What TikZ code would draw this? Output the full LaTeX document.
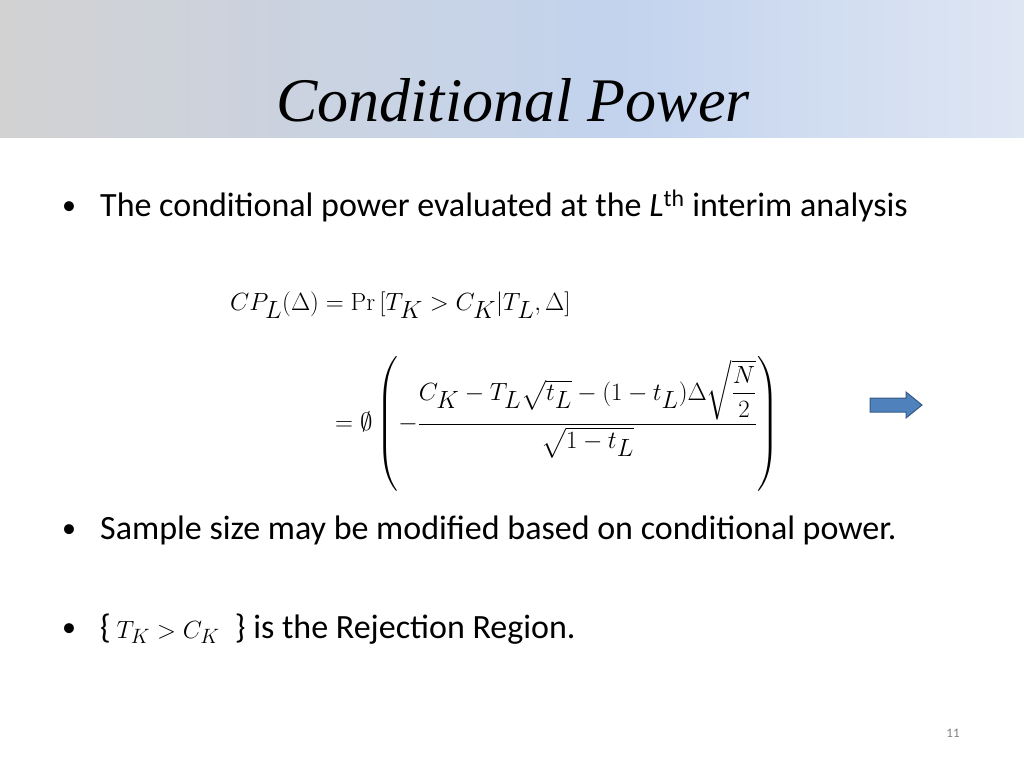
\documentclass[tikz,border=0pt]{standalone}
\usepackage{amsmath}
\usepackage[no-math]{fontspec}
\setmainfont{Carlito}
\newfontfamily\titlefont{Liberation Serif}
\definecolor{hdrL}{HTML}{D2D2D2}
\definecolor{hdrM}{HTML}{C3D3EE}
\definecolor{hdrR}{HTML}{DEE6F3}
\definecolor{arrowblue}{HTML}{4F81BD}
\tikzset{x=1pt,y=-1pt,
  body/.style={anchor=base west,inner sep=0pt,font=\fontsize{34}{40}\selectfont},
  bul/.style={anchor=base west,inner sep=0pt,font=\fontsize{28}{34}\selectfont},
  eq/.style={inner sep=0pt,font=\fontsize{33}{40}\selectfont}}
\begin{document}
\begin{tikzpicture}
\useasboundingbox (0,0) rectangle (1024,768);
\fill[white] (0,0) rectangle (1024,768);
\shade[left color=hdrL,right color=hdrM,shading angle=90] (0,0) rectangle (620,137);
\shade[left color=hdrM,right color=hdrR] (620,0) rectangle (1024,137);
\node[inner sep=0pt] (title) at (513,100) {\titlefont\itshape\fontsize{62}{70}\selectfont Conditional Power};
\node[bul] (b1) at (62,214) {•};
\node[body] (t1) at (100,216) {The conditional power evaluated at the \textit{L}\textsuperscript{th} interim analysis};
\node[eq,anchor=base west] (e1) at (230,310) {$CP_L(\Delta)=\Pr\,[T_K>C_K|T_L,\Delta]$};
\node[eq,anchor=west] (e2) at (335,424) {$\displaystyle =\emptyset\left(-\frac{C_K-T_L\sqrt{t_L}-(1-t_L)\Delta\sqrt{\dfrac{N}{2}}}{\sqrt{1-t_L}}\right)$};
\coordinate (arr) at (870,405);
\draw[draw=arrowblue!70!black,fill=arrowblue,line width=1pt]
  (arr) ++(0,-7) -- ++(36,0) -- ++(0,-6) -- ++(16,13) -- ++(-16,13) -- ++(0,-6) -- ++(-36,0) -- cycle;
\node[bul] (b2) at (62,537) {•};
\node[body] (t2) at (100,539) {Sample size may be modified based on conditional power.};
\node[bul] (b3) at (62,636) {•};
\node[body] (t3) at (100,638) {\{\,{\fontsize{30}{36}\selectfont$T_K>C_K$}\ \ \} is the Rejection Region.};
\node[inner sep=0pt,text=gray,font=\fontsize{13}{15}\selectfont] (pg) at (953,733) {11};
\end{tikzpicture}
\end{document}
